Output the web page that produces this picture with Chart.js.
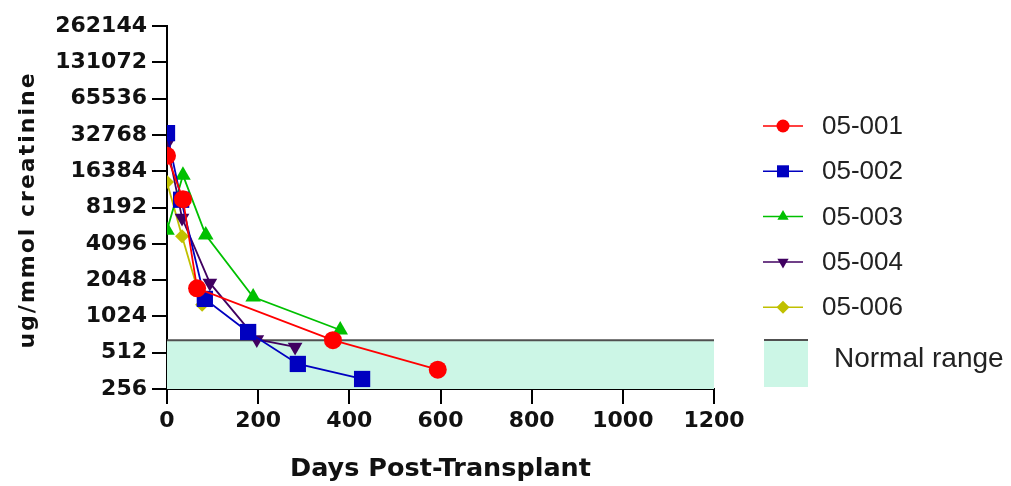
<!DOCTYPE html>
<html>
<head>
<meta charset="utf-8">
<script src="https://cdn.jsdelivr.net/npm/chart.js@4.4.0/dist/chart.umd.min.js"></script>
<style>
  html, body { margin: 0; padding: 0; background: #fff; }
</style>
</head>
<body>
<canvas id="chart" width="1011" height="486"></canvas>
<script>
// Data
const yTicks = [256, 512, 1024, 2048, 4096, 8192, 16384, 32768, 65536, 131072, 262144];
const xTicks = [0, 200, 400, 600, 800, 1000, 1200];
const normalUpper = 650;

const days001 = [0, 35, 66, 364, 594];
const vals001 = [22000, 9600, 1750, 650, 370];
const days002 = [0, 31, 83, 178, 287, 428];
const vals002 = [33900, 9500, 1430, 760, 413, 310];
const days003 = [0, 35, 85, 189, 380];
const vals003 = [5300, 15200, 4840, 1480, 790];
const days004 = [0, 33, 94, 197, 281];
const vals004 = [27500, 6700, 1940, 660, 571];
const days006 = [0, 33, 77];
const vals006 = [13300, 4740, 1280];

const pts = (d, v) => d.map((x, i) => ({ x: x, y: v[i] }));

function series(label, d, v, color, style, radius, rot) {
  return {
    label: label, data: pts(d, v),
    borderColor: color, backgroundColor: color,
    borderWidth: 1.8, pointStyle: style, pointRadius: radius,
    pointHoverRadius: radius, pointRotation: rot || 0,
    pointBorderWidth: 0, tension: 0, order: 1
  };
}

const datasets = [
  series('05-001', days001, vals001, '#ff0000', 'circle', 9),
  series('05-002', days002, vals002, '#0000c0', 'rect', 11.5),
  series('05-003', days003, vals003, '#00c000', 'triangle', 9),
  series('05-004', days004, vals004, '#400060', 'triangle', 8.5, 180),
  series('05-006', days006, vals006, '#c0c000', 'rectRot', 7),
  {
    label: 'Normal range',
    data: [{ x: 0, y: normalUpper }, { x: 1200, y: normalUpper }],
    borderColor: '#505050', borderWidth: 2,
    backgroundColor: '#ccf6e6', fill: 'start', pointRadius: 0, order: 10
  }
];

const boldFam = '"DejaVu Sans", Verdana, sans-serif';

// legend on the right + spaced y title, drawn by hand
const sideLegend = {
  id: 'sideLegend',
  afterDraw(chart) {
    const ctx = chart.ctx;
    ctx.save();
    for (let i = 0; i < 5; i++) {
      const ds = chart.data.datasets[i];
      const y = 126 + i * 45.3;
      ctx.strokeStyle = ds.borderColor;
      ctx.lineWidth = 1.5;
      ctx.beginPath(); ctx.moveTo(763, y); ctx.lineTo(803, y); ctx.stroke();
      ctx.fillStyle = ds.borderColor;
      Chart.helpers.drawPoint(ctx, {
        pointStyle: ds.pointStyle, rotation: ds.pointRotation,
        radius: ds.pointStyle === 'rect' ? 8.5 : 6.5, borderWidth: 0
      }, 783, y);
      ctx.fillStyle = '#222';
      ctx.font = '26px "Liberation Sans", Arial, sans-serif';
      ctx.textBaseline = 'middle';
      ctx.fillText(ds.label, 822, y + 1);
    }
    // normal range swatch
    ctx.fillStyle = '#ccf6e6';
    ctx.fillRect(764, 340, 44, 47);
    ctx.strokeStyle = '#505050';
    ctx.lineWidth = 2;
    ctx.beginPath(); ctx.moveTo(764, 340); ctx.lineTo(808, 340); ctx.stroke();
    ctx.fillStyle = '#222';
    ctx.font = '28px "Liberation Sans", Arial, sans-serif';
    ctx.fillText('Normal range', 834, 359);

    // y axis title with letter spacing
    ctx.translate(28, 210);
    ctx.rotate(-Math.PI / 2);
    ctx.font = 'bold 22px ' + boldFam;
    ctx.letterSpacing = '2px';
    ctx.textAlign = 'center';
    ctx.textBaseline = 'middle';
    ctx.fillStyle = '#111';
    ctx.fillText('ug/mmol creatinine', 0, 0);
    ctx.restore();
  }
};

const tickFont = { family: boldFam, size: 22, weight: 'bold' };

new Chart(document.getElementById('chart'), {
  type: 'line',
  data: { datasets: datasets },
  plugins: [sideLegend],
  options: {
    responsive: false,
    animation: false,
    layout: { padding: { top: 26, right: 297, bottom: 0, left: 4 } },
    plugins: { legend: { display: false }, tooltip: { enabled: false } },
    scales: {
      x: {
        type: 'linear', min: 0, max: 1200,
        afterBuildTicks: s => { s.ticks = xTicks.map(v => ({ value: v })); },
        afterFit: s => { s.height = 97; },
        ticks: { color: '#111', font: tickFont, padding: 4, maxRotation: 0, callback: v => String(v) },
        grid: { drawOnChartArea: false, drawTicks: true, tickLength: 15, color: '#000', lineWidth: 2 },
        border: { color: '#000', width: 2 },
        title: {
          display: true, text: 'Days Post-Transplant', color: '#111',
          font: { family: boldFam, size: 25.5, weight: 'bold' },
          padding: { top: 10, bottom: 1 }
        }
      },
      y: {
        type: 'logarithmic', min: 256, max: 262144,
        afterBuildTicks: s => { s.ticks = yTicks.map(v => ({ value: v })); },
        afterFit: s => { s.width = 163; },
        ticks: { color: '#111', font: tickFont, padding: 5, callback: v => String(v) },
        grid: { drawOnChartArea: false, drawTicks: true, tickLength: 15, color: '#000', lineWidth: 2 },
        border: { color: '#000', width: 2 },
        title: { display: false }
      }
    }
  }
});
</script>
</body>
</html>
